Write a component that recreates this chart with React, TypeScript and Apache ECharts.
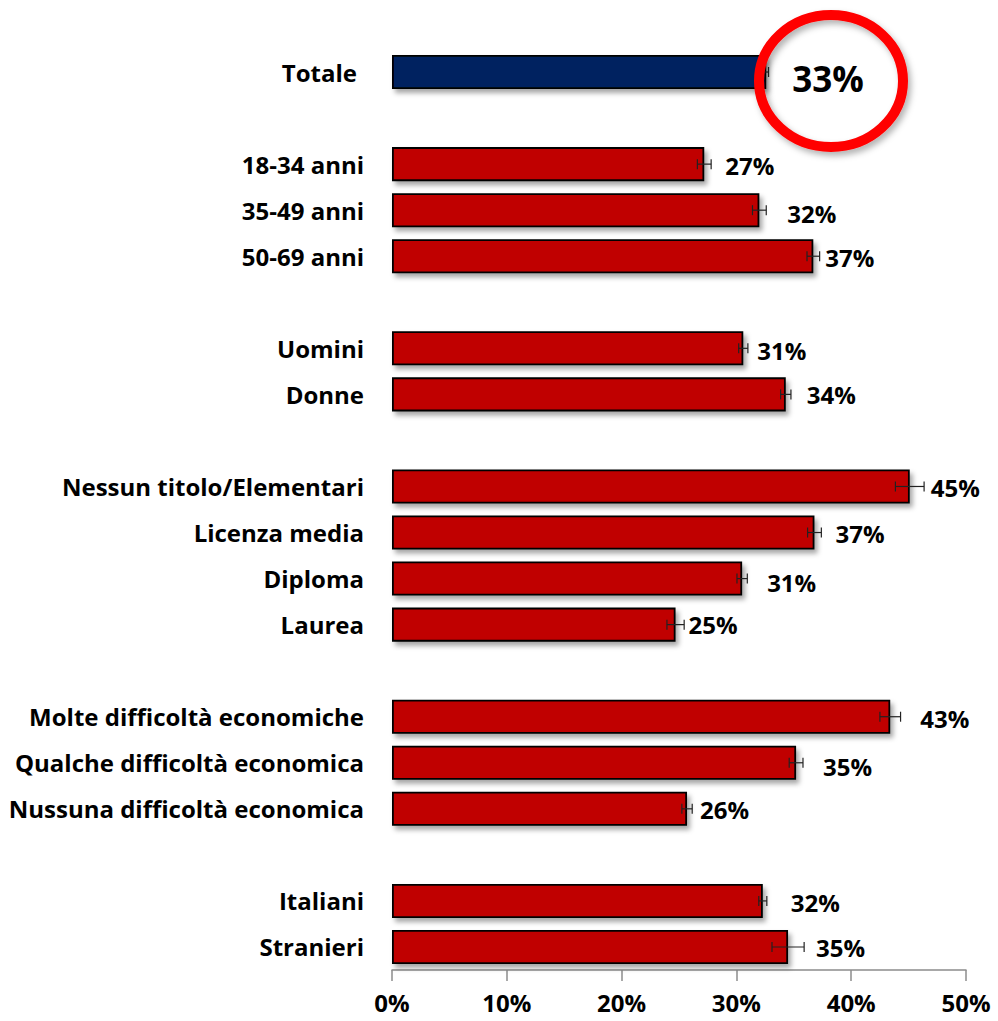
import React, { useEffect, useRef } from "react";
import * as echarts from "echarts";

// Categories, top to bottom ('' = spacer row)
const categories = [
  "Totale", "",
  "18-34 anni", "35-49 anni", "50-69 anni", "",
  "Uomini", "Donne", "",
  "Nessun titolo/Elementari", "Licenza media", "Diploma", "Laurea", "",
  "Molte difficoltà economiche", "Qualche difficoltà economica", "Nussuna difficoltà economica", "",
  "Italiani", "Stranieri",
];

// Percentages
const values: (number | null)[] = [
  32.6, null,
  27.2, 32.0, 36.7, null,
  30.6, 34.3, null,
  45.1, 36.8, 30.5, 24.7, null,
  43.4, 35.2, 25.7, null,
  32.3, 34.5,
];

// Half-width of confidence interval (percentage points)
const errors: (number | null)[] = [
  0.2, null,
  0.6, 0.6, 0.55, null,
  0.4, 0.45, null,
  1.25, 0.6, 0.45, 0.75, null,
  0.9, 0.6, 0.45, null,
  0.35, 1.4,
];

const xTicks = [0, 10, 20, 30, 40, 50];
const totalLabel = "33%";

// label layout tweaks (pixels): horizontal gap and vertical shift
const labelDx = [0, 0, 21, 28, 12, 0, 14, 21, 0, 21, 21, 25, 13, 0, 30, 27, 13, 0, 28, 28];
const labelDy = [0, 0, 1, 3, 1, 0, 2, 0, 0, 1, 1, 4, 0, 0, 2, 4, 1, 0, 2, 1];

const RED = "#C00000";
const NAVY = "#002060";
const FONT = "'Open Sans'";

export default function App() {
  const ref = useRef<HTMLDivElement>(null);

  useEffect(() => {
    if (!ref.current) return;
    const chart = echarts.init(ref.current, null, { renderer: "svg" });

    const barData = values.map((v, i) =>
      v == null
        ? "-"
        : {
            value: v,
            itemStyle: { color: i === 0 ? NAVY : RED },
            label: {
              show: i !== 0,
              offset: [labelDx[i], labelDy[i]],
            },
          }
    );

    const errData = values
      .map((v, i) => (v == null || errors[i] == null ? null : [v, i, errors[i]]))
      .filter((d) => d !== null);

    const yData = categories.map((c, i) =>
      i === 0 ? { value: c, textStyle: { padding: [0, 7, 0, 0] } } : c
    );

    chart.setOption({
      animation: false,
      grid: { left: 392, right: 32, top: 49, bottom: 51, containLabel: false },
      xAxis: {
        type: "value",
        min: 0,
        max: 50,
        interval: 10,
        splitLine: { show: false },
        axisLine: { show: true, lineStyle: { color: "#8c8c8c", width: 1.5 } },
        axisTick: { show: true, length: 11, lineStyle: { color: "#8c8c8c", width: 1.5 } },
        axisLabel: {
          formatter: (v: number) => (xTicks.includes(v) ? v + "%" : ""),
          color: "#000",
          fontFamily: FONT,
          fontWeight: "bold",
          fontSize: 24,
          margin: 20,
        },
      },
      yAxis: {
        type: "category",
        data: yData,
        inverse: true,
        axisLine: { show: false },
        axisTick: { show: false },
        axisLabel: {
          color: "#000",
          fontFamily: FONT,
          fontWeight: "bold",
          fontSize: 24,
          margin: 28,
          interval: 0,
        },
      },
      series: [
        {
          type: "bar",
          data: barData,
          barCategoryGap: "26%",
          itemStyle: {
            borderColor: "#000",
            borderWidth: 1.8,
            shadowColor: "rgba(0,0,0,0.35)",
            shadowBlur: 5,
            shadowOffsetX: 3,
            shadowOffsetY: 4,
          },
          label: {
            show: true,
            position: "right",
            distance: 0,
            color: "#000",
            fontFamily: FONT,
            fontWeight: "bold",
            fontSize: 24,
            formatter: (p: any) => Math.round(p.value) + "%",
          },
          z: 2,
        },
        {
          type: "custom",
          data: errData,
          encode: { x: 0, y: 1 },
          z: 5,
          silent: true,
          renderItem: (params: any, api: any) => {
            const v = api.value(0);
            const c = api.value(1);
            const e = api.value(2);
            const p1 = api.coord([v - e, c]);
            const p2 = api.coord([v + e, c]);
            const h = 5;
            const style = { stroke: "#222", lineWidth: 1.2 };
            return {
              type: "group",
              children: [
                { type: "line", shape: { x1: p1[0], y1: p1[1], x2: p2[0], y2: p2[1] }, style },
                { type: "line", shape: { x1: p1[0], y1: p1[1] - h, x2: p1[0], y2: p1[1] + h }, style },
                { type: "line", shape: { x1: p2[0], y1: p2[1] - h, x2: p2[0], y2: p2[1] + h }, style },
              ],
            };
          },
        },
      ],
      graphic: [
        {
          type: "ellipse",
          shape: { cx: 831, cy: 81, rx: 72, ry: 66 },
          style: {
            fill: "rgba(0,0,0,0)",
            stroke: "#FF0000",
            lineWidth: 10,
            shadowColor: "rgba(0,0,0,0.3)",
            shadowBlur: 6,
            shadowOffsetX: 3,
            shadowOffsetY: 4,
          },
          z: 10,
        },
        {
          type: "text",
          x: 828,
          y: 78,
          style: {
            text: totalLabel,
            fill: "#000",
            font: `bold 35px ${FONT}`,
            align: "center",
            verticalAlign: "middle",
          },
          z: 11,
        },
      ],
    });

    return () => chart.dispose();
  }, []);

  return <div ref={ref} style={{ width: 998, height: 1021, position: "absolute", left: 0, top: 0 }} />;
}
